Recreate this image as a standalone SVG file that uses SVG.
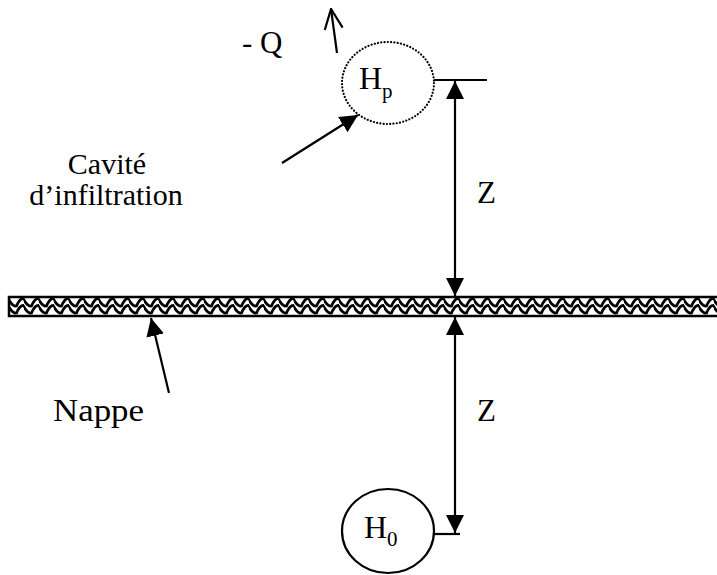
<svg xmlns="http://www.w3.org/2000/svg" width="717" height="575" viewBox="0 0 717 575">
  <style>
    .t { font-family: "Liberation Serif", "Times New Roman", serif; font-size: 31px; fill: #000; }
    .c { font-size: 30px; }
    .h { font-size: 32px; }
    .sub { font-size: 21px; }
    .ln { stroke: #000; stroke-width: 2.2; fill: none; }
  </style>
  <defs>
    <marker id="ah" viewBox="0 0 18 18" refX="18" refY="9" markerWidth="18" markerHeight="18" markerUnits="userSpaceOnUse" orient="auto-start-reverse">
      <path d="M0,0 L18,9 L0,18 z" fill="#000"/>
    </marker>
    <marker id="open" viewBox="0 0 22 22" refX="21" refY="11" markerWidth="22" markerHeight="22" markerUnits="userSpaceOnUse" orient="auto">
      <path d="M1,2 L21,11 L1,20" fill="none" stroke="#000" stroke-width="2.2"/>
    </marker>
    <pattern id="wave" patternUnits="userSpaceOnUse" x="9" y="296" width="15" height="20">
      <path d="M-1,2.5 Q3.75,11 7.5,10 Q11.25,1.5 15,2.5 Q18.75,11 22,10" fill="none" stroke="#000" stroke-width="2.8"/>
      <path d="M-1,9.5 Q3.75,18 7.5,17 Q11.25,8.5 15,9.5 Q18.75,18 22,17" fill="none" stroke="#000" stroke-width="2.8"/>
    </pattern>
  </defs>

  <g id="nappe">
    <rect x="9" y="297" width="720" height="19" fill="#fff" stroke="none"/>
    <rect x="9" y="297" width="720" height="19" fill="url(#wave)" stroke="#000" stroke-width="2.5"/>
  </g>

  <g id="cavite">
    <ellipse cx="388" cy="83" rx="46" ry="41" fill="none" stroke="#000" stroke-width="2.2" stroke-dasharray="0.1 3.2" stroke-linecap="round"/>
    <text class="t h" x="359" y="89">H<tspan class="sub" dy="9">p</tspan></text>
  </g>

  <g id="source">
    <ellipse cx="388" cy="531" rx="46" ry="42" fill="none" stroke="#000" stroke-width="2.2"/>
    <text class="t h" x="364" y="538">H<tspan class="sub" dy="8">0</tspan></text>
  </g>

  <g id="labels">
    <text class="t" x="242" y="53">- Q</text>
    <text class="t c" x="107" y="174" text-anchor="middle">Cavité</text>
    <text class="t c" x="106" y="205" text-anchor="middle">d’infiltration</text>
    <text class="t" x="477" y="203">Z</text>
    <text class="t" x="477" y="421">Z</text>
    <text class="t" x="53" y="421" textLength="91" lengthAdjust="spacingAndGlyphs">Nappe</text>
  </g>

  <g id="connectors">
    <line class="ln" x1="434" y1="80" x2="487" y2="80"/>
    <line class="ln" x1="433" y1="534" x2="460" y2="534"/>
    <line class="ln" x1="455" y1="81" x2="455" y2="296" marker-start="url(#ah)" marker-end="url(#ah)"/>
    <line class="ln" x1="455" y1="317" x2="455" y2="533" marker-start="url(#ah)" marker-end="url(#ah)"/>
    <line class="ln" x1="282" y1="163" x2="358" y2="115" marker-end="url(#ah)"/>
    <line class="ln" x1="169" y1="393" x2="151" y2="318" marker-end="url(#ah)"/>
    <line class="ln" x1="337" y1="53" x2="331" y2="9" marker-end="url(#open)"/>
  </g>
</svg>
